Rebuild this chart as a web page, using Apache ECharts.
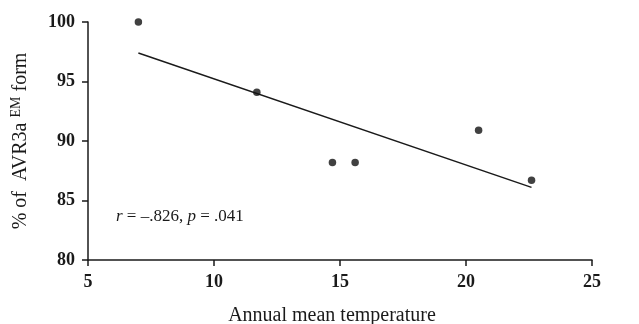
<!DOCTYPE html>
<html>
<head>
<meta charset="utf-8">
<script src="https://cdn.jsdelivr.net/npm/echarts@6/dist/echarts.min.js"></script>
<style>
  html, body { margin: 0; padding: 0; background: #fff; }
  #chart { width: 639px; height: 324px; }
</style>
</head>
<body>
<div id="chart"></div>
<script>
// annual mean temperature vs % of AVR3a EM form
const temperature = [7.0, 11.7, 14.7, 15.6, 20.5, 22.6]
const emPercent = [100, 94.1, 88.2, 88.2, 90.9, 86.7]

// fitted line end points
const fitX = [7.0, 22.6]
const fitY = [97.4, 86.1]

const xTicks = [5, 10, 15, 20, 25]
const yTicks = [80, 85, 90, 95, 100]

const serif = '"Liberation Serif", "DejaVu Serif", serif'
const ink = '#1a1a1a'

const chart = echarts.init(document.getElementById('chart'))

const axisCommon = {
  type: 'value',
  axisLine: { show: true, lineStyle: { color: ink, width: 1.5 } },
  axisTick: { show: true, inside: false, length: 6, lineStyle: { color: ink, width: 1.5 } },
  splitLine: { show: false },
  axisLabel: {
    color: ink,
    fontFamily: serif,
    fontWeight: 'bold',
    fontSize: 18
  },
  nameLocation: 'middle',
  nameTextStyle: { color: ink, fontFamily: serif, fontSize: 20 }
}

chart.setOption({
  animation: false,
  grid: { left: 88, right: 47, top: 22, bottom: 64, outerBoundsMode: 'none', containLabel: false },
  xAxis: {
    ...axisCommon,
    min: xTicks[0],
    max: xTicks[xTicks.length - 1],
    interval: 5,
    name: 'Annual mean temperature',
    nameGap: 46,
    nameTextStyle: { ...axisCommon.nameTextStyle, padding: [0, 16, 0, 0] },
    axisLabel: { ...axisCommon.axisLabel, margin: 13 }
  },
  yAxis: {
    ...axisCommon,
    min: yTicks[0],
    max: yTicks[yTicks.length - 1],
    interval: 5,
    name: '% of  AVR3a {sup|EM} form',
    nameGap: 55,
    nameTextStyle: {
      ...axisCommon.nameTextStyle,
      rich: {
        sup: { fontFamily: serif, fontSize: 14, color: ink, padding: [0, 0, 10, 0] }
      }
    },
    axisLabel: { ...axisCommon.axisLabel, margin: 13 }
  },
  series: [
    {
      type: 'line',
      data: fitX.map((x, i) => [x, fitY[i]]),
      showSymbol: false,
      lineStyle: { color: ink, width: 1.5 },
      silent: true,
      z: 2
    },
    {
      type: 'scatter',
      data: temperature.map((x, i) => [x, emPercent[i]]),
      symbolSize: 7.5,
      itemStyle: { color: '#111' },
      z: 3
    }
  ],
  graphic: [
    {
      type: 'text',
      left: 116,
      top: 208,
      style: {
        text: '{i|r} = –.826, {i|p} = .041',
        fontFamily: serif,
        fontSize: 17,
        fill: ink,
        rich: {
          i: { fontFamily: serif, fontSize: 17, fontStyle: 'italic', color: ink }
        }
      }
    }
  ]
})
</script>
</body>
</html>
